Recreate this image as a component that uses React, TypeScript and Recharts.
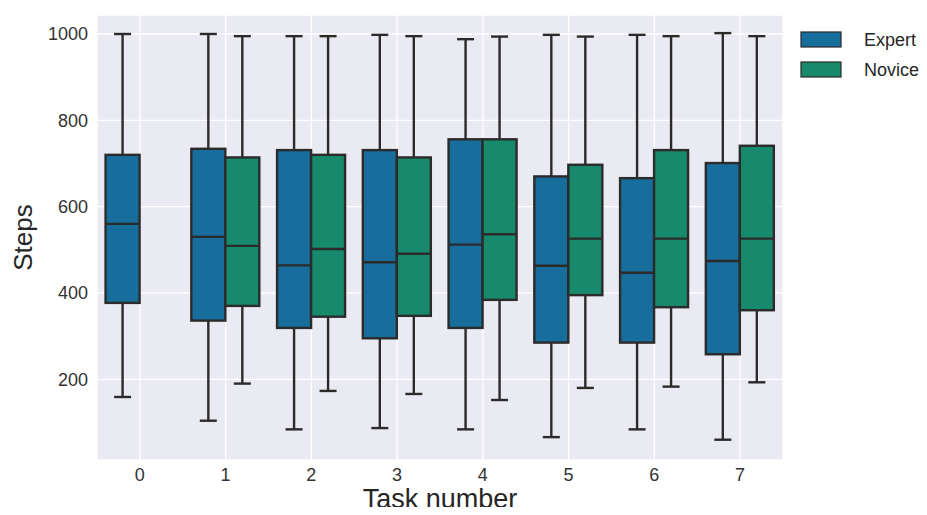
import { BarChart, Bar, XAxis, YAxis, CartesianGrid, Legend, Label } from 'recharts';

const tasks = ['0', '1', '2', '3', '4', '5', '6', '7'];

const expertMin = [159, 104, 84, 87, 84, 66, 84, 60];
const expertQ1 = [377, 336, 319, 295, 319, 285, 285, 258];
const expertMedian = [560, 530, 464, 471, 512, 463, 447, 474];
const expertQ3 = [720, 734, 731, 731, 756, 670, 666, 701];
const expertMax = [1000, 1000, 995, 998, 988, 998, 998, 1002];

const noviceMin = [null, 190, 173, 166, 152, 180, 183, 193];
const noviceQ1 = [null, 370, 345, 347, 384, 395, 367, 360];
const noviceMedian = [null, 509, 502, 491, 536, 526, 526, 526];
const noviceQ3 = [null, 714, 720, 714, 756, 697, 731, 741];
const noviceMax = [null, 995, 995, 995, 994, 994, 995, 995];

const yTicks = [200, 400, 600, 800, 1000];

const EXPERT = '#176D9C';
const NOVICE = '#168A6A';
const EDGE = '#2b2b2b';
const FONT = '"Liberation Sans", Arial, sans-serif';

type Stats = { min: number; q1: number; median: number; q3: number; max: number };

const data = tasks.map((task, i) => {
  const expert: Stats = {
    min: expertMin[i], q1: expertQ1[i], median: expertMedian[i], q3: expertQ3[i], max: expertMax[i],
  };
  const novice: Stats | null = noviceQ1[i] == null ? null : {
    min: noviceMin[i] as number, q1: noviceQ1[i] as number, median: noviceMedian[i] as number,
    q3: noviceQ3[i] as number, max: noviceMax[i] as number,
  };
  return {
    task,
    expert,
    novice,
    expertBox: [expert.q1, expert.q3],
    noviceBox: novice ? [novice.q1, novice.q3] : null,
  };
});

// box + whiskers, positions derived from the bar rect the library placed for [q1, q3]
function BoxShape(props: any) {
  const { x, y, width, height, fill, payload, group } = props;
  const s: Stats | null = payload ? payload[group] : null;
  if (!s || width == null || height == null) return null;
  const top = Math.min(y, y + height);
  const h = Math.abs(height);
  const k = h / (s.q3 - s.q1);
  const py = (v: number) => top + (s.q3 - v) * k;
  const cx = x + width / 2;
  const cap = width / 4;
  const sw = 2.4;
  return (
    <g>
      <line x1={cx} x2={cx} y1={py(s.max)} y2={top} stroke={EDGE} strokeWidth={sw} />
      <line x1={cx} x2={cx} y1={top + h} y2={py(s.min)} stroke={EDGE} strokeWidth={sw} />
      <line x1={cx - cap} x2={cx + cap} y1={py(s.max)} y2={py(s.max)} stroke={EDGE} strokeWidth={sw} />
      <line x1={cx - cap} x2={cx + cap} y1={py(s.min)} y2={py(s.min)} stroke={EDGE} strokeWidth={sw} />
      <rect x={x} y={top} width={width} height={h} fill={fill} stroke={EDGE} strokeWidth={sw} />
      <line x1={x} x2={x + width} y1={py(s.median)} y2={py(s.median)} stroke={EDGE} strokeWidth={sw} />
    </g>
  );
}

function LegendBox() {
  const items = [
    { name: 'Expert', color: EXPERT },
    { name: 'Novice', color: NOVICE },
  ];
  return (
    <svg width={140} height={60} style={{ display: 'block' }}>
      {items.map((it, i) => (
        <g key={it.name}>
          <rect x={1} y={1 + i * 30} width={40} height={15} fill={it.color} stroke={EDGE} strokeWidth={1.2} />
          <text x={64} y={9 + i * 30} dominantBaseline="central" fontSize={18} fill="#262626" fontFamily={FONT}>
            {it.name}
          </text>
        </g>
      ))}
    </svg>
  );
}

function YLabel(props: any) {
  const vb = props.viewBox || {};
  const cx = 15;
  const cy = vb.y + vb.height / 2;
  return (
    <text x={cx} y={cy} transform={`rotate(-90, ${cx}, ${cy})`} textAnchor="middle" dominantBaseline="central"
      fontSize={26} fill="#262626" fontFamily={FONT}>
      Steps
    </text>
  );
}

function XLabel(props: any) {
  const vb = props.viewBox || {};
  return (
    <text x={vb.x + vb.width / 2} y={500} textAnchor="middle" fontSize={27} fill="#262626" fontFamily={FONT}>
      Task number
    </text>
  );
}

export default function App() {
  return (
    <div style={{ fontFamily: FONT, height: 507, marginBottom: -8 }}>
      <BarChart
        width={911}
        height={507}
        data={data}
        margin={{ top: 7, right: 136, bottom: 0, left: 0 }}
        barCategoryGap="10%"
        barGap={0}
      >
        <CartesianGrid fill="#EAEAF2" stroke="#ffffff" strokeWidth={1.3} />
        <XAxis
          dataKey="task"
          axisLine={false}
          tickLine={false}
          height={55}
          tick={{ fontSize: 18, fill: '#333333' }}
        >
          <Label content={<XLabel />} />
        </XAxis>
        <YAxis
          type="number"
          domain={[13, 1044]}
          ticks={yTicks}
          axisLine={false}
          tickLine={false}
          width={89}
          tickMargin={3}
          tick={{ fontSize: 18, fill: '#333333' }}
        >
          <Label content={<YLabel />} />
        </YAxis>
        <Legend
          layout="vertical"
          align="center"
          verticalAlign="middle"
          content={() => <LegendBox />}
          wrapperStyle={{ position: 'absolute', left: 792, top: 23, width: 140, height: 60 }}
        />
        <Bar
          dataKey="expertBox"
          name="Expert"
          fill={EXPERT}
          isAnimationActive={false}
          shape={(p: any) => <BoxShape {...p} group="expert" />}
        />
        <Bar
          dataKey="noviceBox"
          name="Novice"
          fill={NOVICE}
          isAnimationActive={false}
          shape={(p: any) => <BoxShape {...p} group="novice" />}
        />
      </BarChart>
    </div>
  );
}
